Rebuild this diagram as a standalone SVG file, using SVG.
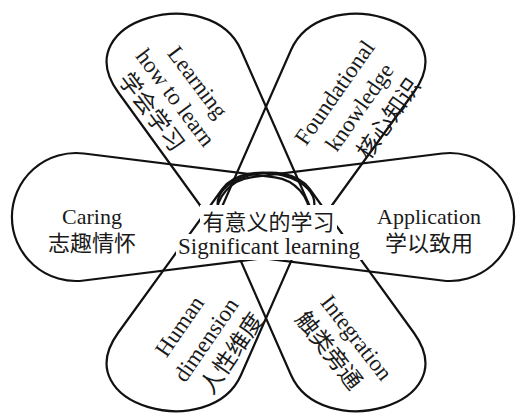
<svg xmlns="http://www.w3.org/2000/svg" width="523" height="419" viewBox="0 0 523 419">
<style>
.petal{fill:none;stroke:#111;stroke-width:2.2;stroke-linejoin:round}
text{font-family:"Liberation Serif","Noto Sans CJK SC",serif;fill:#1a1a1a;text-anchor:middle}
.r{font-size:23px}
.h{font-size:22px}
.cover{fill:#fff}
</style>
<rect width="523" height="419" fill="#fff"/>
<g id="caring">
<path class="petal" d="M83.9,153.5 L274.9,177.3 A40,40 0 0 1 274.9,256.7 L83.9,280.5 A64,64 0 1 1 83.9,153.5 Z"/>
<text class="h" x="92" y="224">Caring</text>
<text class="h" x="92" y="250.5">志趣情怀</text>
</g>
<g id="application">
<path class="petal" d="M442.1,153.5 L251.1,177.3 A40,40 0 0 0 251.1,256.7 L442.1,280.5 A64,64 0 1 0 442.1,153.5 Z"/>
<text class="h" x="429" y="224">Application</text>
<text class="h" x="429" y="251">学以致用</text>
</g>
<g id="learning">
<path class="petal" d="M118,92 C65.4,18.9 210.8,-18.6 241,50 L312.3,212 C328.3,248.6 245.7,268.5 222.3,236 Z"/>
<g transform="translate(175,98) rotate(53)">
<text class="r" x="1" y="-20">Learning</text>
<text class="r" x="0" y="7">how to learn</text>
<text class="r" x="-3" y="35">学会学习</text>
</g>
</g>
<g id="foundational">
<path class="petal" d="M414,92 C466.6,18.9 321.2,-18.6 291,50 L219.7,212 C203.7,248.6 286.3,268.5 309.7,236 Z"/>
<g transform="translate(360,107.5) rotate(-55)">
<text class="r" x="-2.4" y="-21.8">Foundational</text>
<text class="r" x="0" y="7">knowledge</text>
<text class="r" x="7.4" y="37.6">核心知识</text>
</g>
</g>
<g id="human">
<path class="petal" d="M118,333 C65.4,406.1 210.8,443.6 241,375 L312.3,213 C328.3,176.4 245.7,156.5 222.3,189 Z"/>
<g transform="translate(206.5,340) rotate(-55.5)">
<text class="r" x="-4" y="-22.4">Human</text>
<text class="r" x="0" y="7">dimension</text>
<text class="r" x="3.3" y="36.2">人性维度</text>
</g>
</g>
<g id="integration">
<path class="petal" d="M414,333 C466.6,406.1 321.2,443.6 291,375 L219.7,213 C203.7,176.4 286.3,156.5 309.7,189 Z"/>
<g transform="translate(356,338) rotate(52)">
<text class="r" x="0" y="7">Integration</text>
<text class="r" x="-6.8" y="37">触类旁通</text>
</g>
</g>
<g id="connectors"></g>
<g id="center">
<rect class="cover" x="200" y="205" width="137" height="30"/>
<rect class="cover" x="176" y="234" width="186" height="26"/>
<text class="h" x="268.5" y="229.5">有意义的学习</text>
<text class="r" x="269" y="254">Significant learning</text>
</g>
</svg>
